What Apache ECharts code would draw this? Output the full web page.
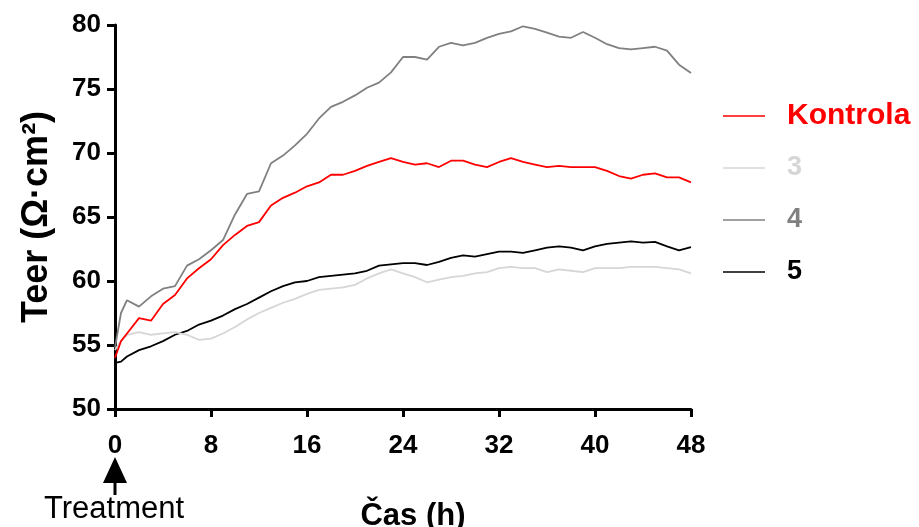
<!DOCTYPE html>
<html>
<head>
<meta charset="utf-8">
<script src="https://cdn.jsdelivr.net/npm/echarts@6/dist/echarts.min.js"></script>
<style>
  html, body { margin: 0; padding: 0; background: #fff; }
  #chart { width: 919px; height: 527px; }
</style>
</head>
<body>
<div id="chart"></div>
<script>
// čas v hodinách
var hours = [0, 0.5, 1, 2, 3, 4, 5, 6, 7, 8, 9, 10, 11, 12, 13, 14, 15, 16, 17, 18, 19, 20,
  21, 22, 23, 24, 25, 26, 27, 28, 29, 30, 31, 32, 33, 34, 35, 36, 37, 38, 39, 40,
  41, 42, 43, 44, 45, 46, 47, 48];
var xTicks = [0, 8, 16, 24, 32, 40, 48];
var yTicks = [50, 55, 60, 65, 70, 75, 80];

var kontrola = [54.0, 55.3, 55.9, 57.1, 56.9, 58.2, 58.9, 60.2, 61.0, 61.7, 62.8, 63.6, 64.3, 64.6,
  65.9, 66.5, 66.9, 67.4, 67.7, 68.3, 68.3, 68.6, 69.0, 69.3, 69.6, 69.3, 69.1, 69.2, 68.9, 69.4,
  69.4, 69.1, 68.9, 69.3, 69.6, 69.3, 69.1, 68.9, 69.0, 68.9, 68.9, 68.9, 68.6, 68.2, 68.0, 68.3,
  68.4, 68.1, 68.1, 67.7];
var s3 = [54.6, 55.3, 55.8, 56.0, 55.8, 55.9, 56.0, 55.8, 55.4, 55.5, 55.9, 56.4, 57.0, 57.5,
  57.9, 58.3, 58.6, 59.0, 59.3, 59.4, 59.5, 59.7, 60.2, 60.6, 60.9, 60.6, 60.3, 59.9, 60.1, 60.3,
  60.4, 60.6, 60.7, 61.0, 61.1, 61.0, 61.0, 60.7, 60.9, 60.8, 60.7, 61.0, 61.0, 61.0, 61.1, 61.1,
  61.1, 61.0, 60.9, 60.6];
var s4 = [54.8, 57.5, 58.5, 58.0, 58.8, 59.4, 59.6, 61.2, 61.7, 62.4, 63.2, 65.2, 66.8, 67.0,
  69.2, 69.8, 70.6, 71.5, 72.7, 73.6, 74.0, 74.5, 75.1, 75.5, 76.3, 77.5, 77.5, 77.3, 78.3, 78.6,
  78.4, 78.6, 79.0, 79.3, 79.5, 79.9, 79.7, 79.4, 79.1, 79.0, 79.45, 79.0, 78.5, 78.2, 78.1, 78.2,
  78.3, 78.0, 76.9, 76.25];
var s5 = [53.6, 53.7, 54.1, 54.6, 54.9, 55.3, 55.8, 56.1, 56.6, 56.9, 57.3, 57.8, 58.2, 58.7,
  59.2, 59.6, 59.9, 60.0, 60.3, 60.4, 60.5, 60.6, 60.8, 61.2, 61.3, 61.4, 61.4, 61.25, 61.5, 61.8,
  62.0, 61.9, 62.1, 62.3, 62.3, 62.2, 62.4, 62.6, 62.7, 62.6, 62.4, 62.7, 62.9, 63.0, 63.1, 63.0,
  63.05, 62.7, 62.4, 62.65];

var names = ['Kontrola', '3', '4', '5'];
var colors = ['#ff0000', '#d6d6d6', '#808080', '#000000'];
var values = [kontrola, s3, s4, s5];

function pairs(arr) {
  return hours.map(function (h, i) { return [h, arr[i]]; });
}

var myChart = echarts.init(document.getElementById('chart'));
var font = 'Liberation Sans, Arial, sans-serif';

var series = names.map(function (n, i) {
  return {
    name: n,
    type: 'line',
    data: pairs(values[i]),
    symbol: 'none',
    animation: false,
    lineStyle: { color: colors[i], width: 1.8 },
    itemStyle: { color: colors[i] },
    z: 10 - i
  };
});

var option = {
  backgroundColor: '#fff',
  animation: false,
  // pevná plocha grafu, bez automatického zmenšování
  grid: { left: 115, right: 228, top: 25, bottom: 118, containLabel: false, outerBoundsMode: 'none' },
  legend: {
    orient: 'vertical',
    left: 723,
    top: 101,
    padding: 0,
    itemWidth: 42,
    itemHeight: 10,
    itemGap: 22,
    icon: 'path://M0,4 L42,4 L42,5.5 L0,5.5 Z',
    data: names.map(function (n, i) {
      return {
        name: n,
        itemStyle: { color: colors[i] },
        textStyle: { color: colors[i], fontSize: i === 0 ? 30 : 27, fontWeight: 'bold',
          fontFamily: font, lineHeight: 30, padding: [0, 0, 0, 17] }
      };
    })
  },
  xAxis: {
    type: 'value',
    min: 0,
    max: 48,
    interval: 8,
    name: 'Čas (h)',
    nameLocation: 'middle',
    nameGap: 92,
    nameTextStyle: { color: '#000', fontSize: 31, fontWeight: 'bold', fontFamily: font, padding: [0, 0, 0, 20] },
    axisLine: { lineStyle: { color: '#000', width: 3 } },
    axisTick: { show: true, length: 8, lineStyle: { color: '#000', width: 3 } },
    axisLabel: { color: '#000', fontSize: 26, fontWeight: 'bold', fontFamily: font, margin: 24,
      customValues: xTicks },
    splitLine: { show: false }
  },
  yAxis: {
    type: 'value',
    min: 50,
    max: 80,
    interval: 5,
    name: 'Teer (Ω·cm²)',
    nameLocation: 'middle',
    nameGap: 60,
    nameTextStyle: { color: '#000', fontSize: 36, fontWeight: 'bold', fontFamily: font },
    axisLine: { show: true, lineStyle: { color: '#000', width: 3 } },
    axisTick: { show: true, length: 8, lineStyle: { color: '#000', width: 3 } },
    axisLabel: { color: '#000', fontSize: 26, fontWeight: 'bold', fontFamily: font, margin: 14 },
    splitLine: { show: false }
  },
  // šipka "Treatment" pod osou x
  graphic: [
    { type: 'polygon', shape: { points: [[115, 457], [103, 483], [127, 483]] }, style: { fill: '#000' } },
    { type: 'rect', shape: { x: 113.5, y: 481, width: 3, height: 14 }, style: { fill: '#000' } },
    { type: 'text', x: 114, y: 509, style: { text: 'Treatment', fill: '#000', fontSize: 31,
      fontFamily: font, textAlign: 'center', textVerticalAlign: 'middle' } }
  ],
  series: series
};

myChart.setOption(option);
</script>
</body>
</html>
